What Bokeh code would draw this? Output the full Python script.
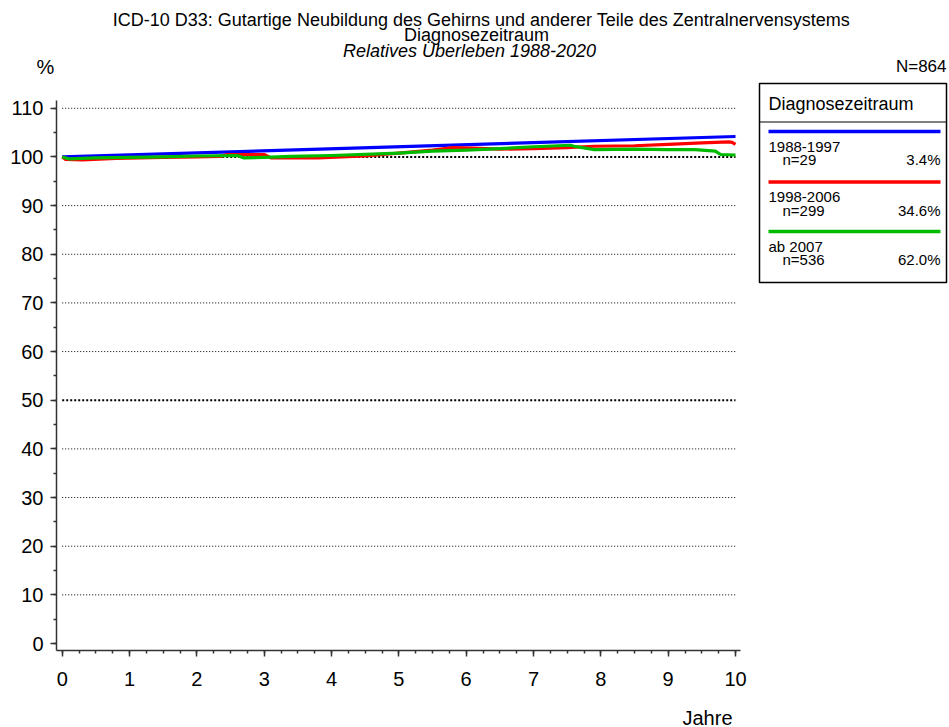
from bokeh.plotting import figure
from bokeh.layouts import column, row
from bokeh.models import Label, FixedTicker, Range1d
from bokeh.embed import file_html
from bokeh.resources import INLINE

# ---------------- data ----------------
title_lines = ["ICD-10 D33: Gutartige Neubildung des Gehirns und anderer Teile des Zentralnervensystems",
               "Diagnosezeitraum",
               "Relatives Überleben 1988-2020"]
total_n = "N=864"
y_unit = "%"
x_title = "Jahre"
legend_title = "Diagnosezeitraum"
groups = ["1988-1997", "1998-2006", "ab 2007"]
group_n = ["n=29", "n=299", "n=536"]
group_pct = ["3.4%", "34.6%", "62.0%"]
colors = ["#0000FF", "#FF0000", "#00BB00"]

x_ticks = [0, 1, 2, 3, 4, 5, 6, 7, 8, 9, 10]
x_minor = [i * 0.25 for i in range(41)]
y_ticks = [0, 10, 20, 30, 40, 50, 60, 70, 80, 90, 100, 110]
y_minor = [i * 5 for i in range(23)]
grid_levels = [10, 20, 30, 40, 60, 70, 80, 90, 110]
grid_heavy = [50, 100]

t_1988 = [0, 10]
s_1988 = [100, 104.2]

t_1998 = [0, 0.05, 0.3, 0.8, 1.5, 2.0, 2.35, 2.45, 3.0, 3.1, 3.8, 4.5, 5.0, 5.5, 5.8, 6.1, 6.5, 7.0, 7.5, 7.9, 8.5, 9.0, 9.5, 9.9, 9.95, 10.0]
s_1998 = [100, 99.5, 99.4, 99.7, 99.9, 100.0, 100.1, 100.5, 100.5, 99.8, 99.8, 100.2, 100.8, 101.4, 101.9, 101.8, 101.6, 101.7, 101.9, 102.2, 102.3, 102.6, 102.9, 103.1, 103.0, 102.6]

t_2007 = [0, 0.1, 0.5, 1.5, 2.0, 2.6, 2.7, 3.0, 3.4, 4.0, 5.0, 5.5, 6.0, 6.5, 7.0, 7.55, 7.6, 7.9, 8.5, 9.0, 9.4, 9.6, 9.7, 9.78, 10.0]
s_2007 = [100, 99.6, 99.8, 100.0, 100.2, 100.3, 99.8, 99.9, 100.1, 100.3, 100.8, 101.2, 101.4, 101.7, 102.1, 102.4, 102.2, 101.5, 101.6, 101.5, 101.5, 101.3, 101.2, 100.5, 100.4]

times = [t_1988, t_1998, t_2007]
surv = [s_1988, s_1998, s_2007]

# ---------------- layout ----------------
FONT = "Liberation Sans"
PW, PH = 949, 727          # page
TOP_H = 80                 # title strip
BOT_H = 27                 # bottom strip ("Jahre")
MID_H = PH - TOP_H - BOT_H
MAIN_W = 756
LEG_W = PW - MAIN_W

# main plot mapping (page pixels)
X0, XS = 61.7, 67.33       # x=0 pixel, px per year
Y0, YS = 643.0, 4.8655     # y=0 pixel, px per percent
FL, FR, FT, FB = 56, 740, TOP_H, 650   # frame edges (page px)
AXIS_TOP = 100             # where the y axis line starts (page px)


def strip(w, h, x0, y0, bottom_border=0):
    f = figure(width=w, height=h, output_backend="svg", toolbar_location=None,
               x_range=Range1d(x0, x0 + w), y_range=Range1d(y0 + h - bottom_border, y0),
               min_border=0, min_border_bottom=bottom_border)
    f.axis.visible = False
    f.grid.visible = False
    f.outline_line_color = None
    return f


def label(f, text, px, py, size, align="left", style="normal"):
    f.add_layout(Label(x=px, y=py, text=text, text_font=FONT,
                       text_font_size=size, text_align=align,
                       text_baseline="middle", text_font_style=style,
                       text_color="black"))


# --- title strip
top = strip(PW, TOP_H, 0, 0)
label(top, title_lines[0], 481, 19, "18px", "center")
label(top, title_lines[1], 476, 34.5, "18px", "center")
label(top, title_lines[2], 469, 50.5, "18px", "center", "italic")
label(top, y_unit, 45, 66, "20px", "center")
label(top, total_n, 946, 66, "17px", "right")

# --- main plot
y_lo = (Y0 - FB) / YS
p = figure(width=MAIN_W, height=MID_H, output_backend="svg", toolbar_location=None,
           x_range=Range1d((FL - X0) / XS, (FR - X0) / XS),
           y_range=Range1d(y_lo, (Y0 - FT) / YS),
           min_border_left=FL, min_border_right=MAIN_W - FR,
           min_border_top=0, min_border_bottom=TOP_H + MID_H - FB)
p.outline_line_color = None
p.xgrid.visible = False
p.ygrid.visible = False

for ax in (p.xaxis[0], p.yaxis[0]):
    ax.axis_line_color = "#333333"
    ax.axis_line_width = 1.5
    ax.major_tick_line_color = "#333333"
    ax.minor_tick_line_color = "#333333"
    ax.major_tick_line_width = 1.5
    ax.minor_tick_line_width = 1.5
    ax.major_tick_out = 6
    ax.major_tick_in = 0
    ax.minor_tick_out = 3
    ax.minor_tick_in = 0
    ax.major_label_text_font = FONT
    ax.major_label_text_font_size = "20px"
    ax.major_label_text_color = "black"

p.yaxis.bounds = (y_lo, (Y0 - AXIS_TOP) / YS)
p.xaxis.ticker = FixedTicker(ticks=x_ticks, minor_ticks=x_minor)
p.yaxis.ticker = FixedTicker(ticks=y_ticks, minor_ticks=y_minor)
p.xaxis.major_label_standoff = 15
p.yaxis.major_label_standoff = 7

p.segment(x0=[x_ticks[0]] * len(grid_levels), y0=grid_levels,
          x1=[x_ticks[-1]] * len(grid_levels), y1=grid_levels,
          line_color="black", line_width=1, line_dash="1 2")
p.segment(x0=[x_ticks[0]] * len(grid_heavy), y0=grid_heavy,
          x1=[x_ticks[-1]] * len(grid_heavy), y1=grid_heavy,
          line_color="black", line_width=2, line_dash="2 2")

for t, s, c in zip(times, surv, colors):
    p.line(t, s, line_color=c, line_width=3.2, line_join="round")

# --- legend panel (frame aligned with the main frame)
lg = strip(LEG_W, MID_H, MAIN_W, TOP_H, bottom_border=TOP_H + MID_H - FB)
BL, BR, BT, BB = 759, 946, 83, 282
lg.quad(left=[BL], right=[BR], top=[BT], bottom=[BB],
        fill_alpha=0, line_color="black", line_width=1.5)
lg.segment(x0=[BL], y0=[121.5], x1=[BR], y1=[121.5], line_color="black", line_width=1.2)
label(lg, legend_title, 768, 103, "18px")
row_y = [131, 181.5, 231]
lg.segment(x0=[768] * 3, y0=row_y, x1=[940] * 3, y1=row_y,
           line_color=colors, line_width=3.5)
for i, (g, n, pc) in enumerate(zip(groups, group_n, group_pct)):
    y = row_y[i]
    label(lg, g, 768, y + 15, "15px")
    label(lg, n, 782, y + 28, "15px")
    label(lg, pc, 940, y + 28, "15px", "right")

# --- bottom strip
bot = strip(PW, BOT_H, 0, TOP_H + MID_H)
label(bot, x_title, 707, 717, "20px", "center")

layout = column(top, row(p, lg), bot)
open("out.html", "w").write(file_html(layout, INLINE))
